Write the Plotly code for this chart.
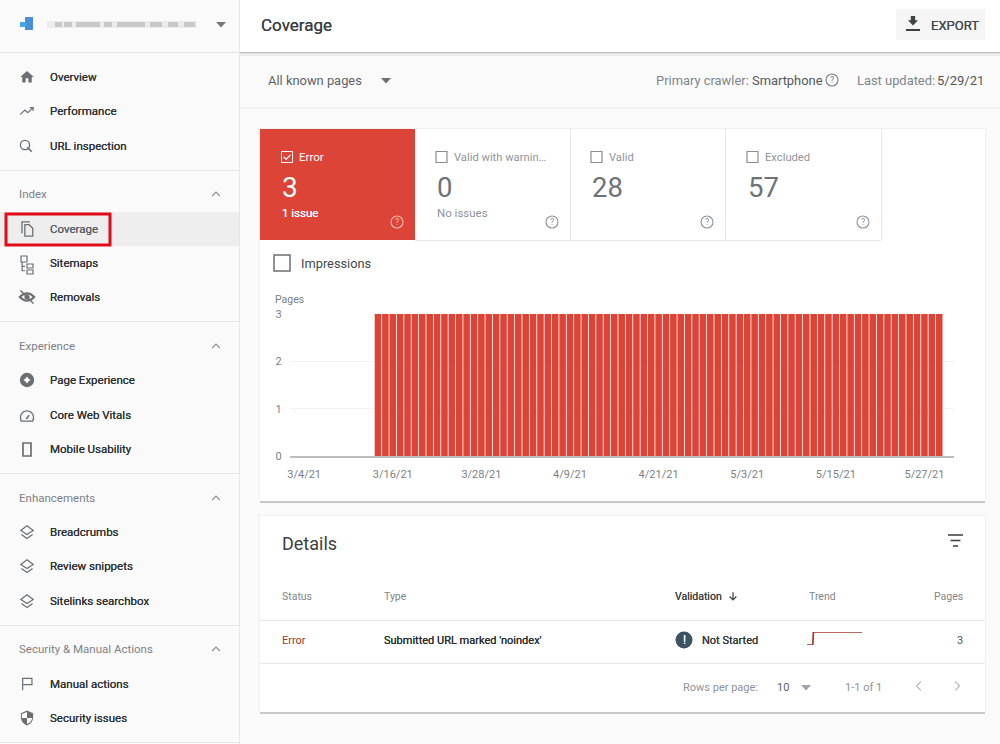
import re
import pandas as pd
import plotly.graph_objects as go

# ------------------------------------------------------------------ #
#                               DATA

dates = pd.date_range("2021-03-04", "2021-05-29", freq="D")
pages = [0, 0, 0, 0, 0, 0, 0, 0, 0, 0,
         3, 3, 3, 3, 3, 3, 3, 3, 3, 3, 3, 3, 3, 3, 3, 3, 3, 3, 3, 3, 3, 3, 3, 3, 3, 3, 3, 3, 3, 3,
         3, 3, 3, 3, 3, 3, 3, 3, 3, 3, 3, 3, 3, 3, 3, 3, 3, 3, 3, 3, 3, 3, 3, 3, 3, 3, 3, 3, 3, 3,
         3, 3, 3, 3, 3, 3, 3, 3, 3, 3, 3, 3, 3, 3, 3, 3, 3]
tick_dates = ["2021-03-04", "2021-03-16", "2021-03-28", "2021-04-09",
              "2021-04-21", "2021-05-03", "2021-05-15", "2021-05-27"]
tick_labels = ["3/4/21", "3/16/21", "3/28/21", "4/9/21", "4/21/21", "5/3/21", "5/15/21", "5/27/21"]
y_ticks = [0, 1, 2, 3]

RED = "#db4437"
DARK = "#3c4043"
GREY = "#80868b"
ICON = "#6b6f73"
FONT = "Roboto"

# ------------------------------------------------------------------ #
#                    HELPERS (the page is drawn in pixels)

shapes = []
notes = []


def rect(x0, y0, x1, y1, fill=None, line=None, w=1):
    shapes.append(dict(type="rect", xref="x", yref="y", x0=x0, y0=y0, x1=x1, y1=y1, layer="below",
                       fillcolor=fill or "rgba(0,0,0,0)",
                       line=dict(color=line or "rgba(0,0,0,0)", width=w if line else 0)))


def circle(cx, cy, r, fill=None, line=None, w=1):
    shapes.append(dict(type="circle", xref="x", yref="y", x0=cx - r, y0=cy - r, x1=cx + r, y1=cy + r, layer="below",
                       fillcolor=fill or "rgba(0,0,0,0)",
                       line=dict(color=line or "rgba(0,0,0,0)", width=w if line else 0)))


# icon paths are written on a 24x24 grid and moved to (cx, cy)
def icon(d, cx, cy, s=0.7, fill=None, line=None, w=1.4):
    nums = iter(re.findall(r"-?[\d.]+|[A-Za-z]", d))
    out = []
    for tok in nums:
        if tok.isalpha():
            out.append(tok)
        else:
            out.append(f"{cx + (float(tok) - 12) * s:.2f},{cy + (float(next(nums)) - 12) * s:.2f}")
    shapes.append(dict(type="path", xref="x", yref="y", path=" ".join(out), layer="below",
                       fillcolor=fill or "rgba(0,0,0,0)",
                       line=dict(color=line or "rgba(0,0,0,0)", width=w if line else 0)))


# medium weight is not available, a thin shadow over the regular face comes close
def text(s, x, y, size=11.5, color=DARK, anchor="left", medium=False):
    font = dict(family=FONT, size=size, color=color)
    if medium:
        font["shadow"] = f"0 0 0.6px {color}"
    if anchor == "left":
        x = x - 1
    notes.append(dict(text=s, x=x, y=y, xref="x", yref="y", xanchor=anchor, yanchor="middle", showarrow=False,
                      borderpad=0, font=font))


def caret(cx, cy, color=ICON):
    icon("M7 10 L17 10 L12 15.5 Z", cx, cy, 1, fill=color)


def help_icon(cx, cy, color="#8f9398"):
    circle(cx, cy, 6, line=color, w=1.1)
    text("?", cx, cy, 9, color, "center")


def checkbox(x, y, size=11, color="#8a8e92", w=1.2):
    rect(x, y, x + size, y + size, line=color, w=w)


# ------------------------------------------------------------------ #
#                               PAGE

# sidebar
rect(239, 0, 240, 744, fill="#e6e6e6")
rect(0, 212, 239, 246, fill="#eeeeee")
for y in [52, 170, 321, 473, 625, 742]:
    rect(0, y, 239, y + 1, fill="#e6e6e6")

# logo and blurred site name
rect(25, 17, 33, 30, fill="#4a90d9")
rect(20, 22, 26, 27, fill="#3fa9e0")
rect(47, 21, 197, 28, fill="#ececec")
for x0, x1 in [(55, 62), (64, 72), (76, 100), (104, 112), (117, 145), (150, 162), (168, 178), (184, 195)]:
    rect(x0, 22, x1, 27, fill="#c9c9c9")
caret(221, 24, "#777777")

nav_labels = ["Overview", "Performance", "URL inspection", "Coverage", "Sitemaps", "Removals",
              "Page Experience", "Core Web Vitals", "Mobile Usability",
              "Breadcrumbs", "Review snippets", "Sitelinks searchbox",
              "Manual actions", "Security issues"]
nav_y = [77, 111, 146, 229, 263, 297, 380, 415, 449, 532, 566, 601, 684, 718]
for label, y in zip(nav_labels, nav_y):
    text(label, 49.5, y, 11.5, "#5a5f64" if label == "Coverage" else "#303336", medium=True)

for label, y in zip(["Index", "Experience", "Enhancements", "Security & Manual Actions"], [194, 346, 498, 649]):
    text(label, 18.5, y, 11.5, "#7d8185")
    icon("M7 14.5 L12 9.5 L17 14.5", 216, y, 0.8, line="#8a8e92", w=1.1)

# nav icons
icon("M10 20 L10 14 L14 14 L14 20 L19 20 L19 12 L22 12 L12 3 L2 12 L5 12 L5 20 Z", 27, 77, 0.68, fill=ICON)
icon("M2 17 L9 10.5 L13 14.5 L21 7 M16 7 L21 7 L21 12", 27, 111, 0.68, line=ICON, w=1.2)
circle(25, 145, 4.6, line=ICON, w=1.3)
icon("M14 14 L20.5 20.5", 26, 146, 0.68, line=ICON, w=1.5)
icon("M16 2 L5 2 L5 18 M9 6 L15 6 L20 11 L20 22 L9 22 Z", 27, 229, 0.72, line=ICON, w=1.3)
for x0, y0, x1, y1 in [(21, 256, 27, 262), (27, 264, 33, 268), (27, 270, 33, 274)]:
    rect(x0, y0, x1, y1, line=ICON, w=1.2)
icon("M8 8 L8 20 L12 20 M8 14 L12 14", 25, 265, 0.72, line=ICON, w=1.2)
icon("M1 12 Q12 1 23 12 Q12 23 1 12 Z", 27, 297, 0.66, line=ICON, w=2)
circle(27, 297, 2.6, fill=ICON)
icon("M3 3 L21 21", 27, 297, 0.72, line=ICON, w=1.5)
circle(27, 380, 7.2, fill=ICON)
icon("M12 7 L14 10 L17 12 L14 14 L12 17 L10 14 L7 12 L10 10 Z", 27, 380, 0.72, fill="#fafafa")
icon("M4 19 Q1 12 6 7 Q12 3 18 7 Q23 12 20 19 Z", 27, 416, 0.72, line=ICON, w=1.3)
icon("M11 16 L15 11", 27, 416, 0.72, line=ICON, w=1.6)
rect(23, 443, 31, 456, line=ICON, w=1.7)
for y in [532, 566, 601]:
    icon("M12 2 L22 9.5 L12 16 L2 9.5 Z", 27, y, 0.62, line=ICON, w=1.2)
    icon("M3 15 L12 21.5 L21 15", 27, y + 0.6, 0.62, line=ICON, w=1.2)
icon("M5 22 L5 3 L20 3 L20 13 L5 13", 27, 684, 0.62, line=ICON, w=1.2)
icon("M12 1 L21 5 L21 11 Q21 19 12 23 Q3 19 3 11 L3 5 Z", 27, 718, 0.68, fill=ICON)
icon("M12 3 L12 12 L4.5 12 L4.5 6 Z M12 12 L19.5 12 Q19 18 12 21 Z", 27, 718, 0.68, fill="#fafafa")

# red highlight around Coverage
shapes.append(dict(type="rect", xref="x", yref="y", x0=6, y0=214, x1=110, y1=245, layer="below",
                   fillcolor="rgba(0,0,0,0)", line=dict(color="#e30b17", width=3)))

# top bar and filter bar
rect(240, 0, 1000, 52, fill="#ffffff")
rect(240, 52, 1000, 53.5, fill="#bdbdbd")
rect(240, 53.5, 1000, 56, fill="#ececec")
rect(240, 107.5, 1000, 108.5, fill="#e8e8e8")
text("Coverage", 260.5, 25, 17, DARK, medium=True)
rect(896, 9, 985, 40, fill="#f5f5f5")
icon("M19 9 L15 9 L15 3 L9 3 L9 9 L5 9 L12 16 Z", 913, 22.5, 0.72, fill="#3f4245")
rect(906, 29, 920, 31, fill="#3f4245")
text("EXPORT", 930.5, 25, 13, "#45494d", medium=True)
text("All known pages", 267.5, 80, 12.9, "#5f6368")
caret(386, 80)
text("Primary crawler:", 655.5, 80, 12.9, GREY)
text("Smartphone", 751.5, 80, 12.9, "#54585c")
help_icon(832, 80, "#7d8185")
text("Last updated:", 856.5, 80, 12.9, GREY)
text("5/29/21", 984.5, 80, 13, "#54585c", "right")

# chart card
rect(260, 500, 985, 503, fill="#c8c8c8")
rect(259, 128, 986, 501, fill="#f0f0f0")
rect(260, 129, 985, 501, fill="#ffffff")
rect(260, 129, 415, 240, fill=RED)
rect(415, 240, 881, 241, fill="#e8e8e8")
for x in [570, 725, 881]:
    rect(x, 129, x + 1, 240, fill="#e8e8e8")

# summary tiles
rect(281.5, 151.5, 292.5, 162.5, line="#ffffff", w=1)
icon("M6 12 L10.5 16.5 L18 8", 287, 157, 0.55, line="#ffffff", w=1.2)
text("Error", 298.5, 157, 11.5, "#ffffff")
text("3", 281.5, 187, 28, "#ffffff")
text("1 issue", 281.5, 213, 11.5, "#ffffff", medium=True)
help_icon(397, 222, "#f3b5ae")
tile_labels = ["Valid with warnin…", "Valid", "Excluded"]
tile_values = ["0", "28", "57"]
for label, value, x in zip(tile_labels, tile_values, [436, 591, 747]):
    checkbox(x, 151.5, 11)
    text(label, x + 17.5, 157, 11.2, "#90949a")
    text(value, x + 0.5, 187, 27.5, "#6f7377")
    help_icon(x + 116, 222)
text("No issues", 436.5, 213, 11.5, "#8f9398")

checkbox(274, 255, 16, "#6b6f73", 1.5)
text("Impressions", 300.5, 263, 12.8, "#45494d")
text("Pages", 274.5, 299, 10.5, "#7d8185")

# details card
rect(260, 711, 985, 714, fill="#c8c8c8")
rect(259, 515, 986, 712, fill="#f0f0f0")
rect(260, 516, 985, 712, fill="#ffffff")
rect(260, 620, 985, 621, fill="#e8e8e8")
rect(260, 663, 985, 664, fill="#e8e8e8")
text("Details", 281.5, 543, 18, DARK)
for y, x0, x1 in [(535, 948, 963), (540.5, 950.5, 960.5), (546, 953, 958)]:
    rect(x0, y - 0.8, x1, y + 0.8, fill="#44484c")

text("Status", 281.5, 596, 10.5, GREY)
text("Type", 383.5, 596, 10.5, GREY)
text("Validation", 674.5, 596, 10.5, "#3f4245", medium=True)
icon("M12 4 L12 20 M5 13 L12 20 L19 13", 733, 596, 0.48, line="#3f4245", w=1.2)
text("Trend", 808.5, 596, 10.5, GREY)
text("Pages", 964, 596, 10.5, GREY, "right")

text("Error", 281.5, 640, 11, "#a5372c")
text("Submitted URL marked 'noindex'", 383.5, 640, 11, "#2b2e31", medium=True)
circle(684, 640, 8.5, fill="#3d5362")
text("!", 684, 640, 12, "#ffffff", "center", medium=True)
text("Not Started", 701.5, 640, 11, "#33373a", medium=True)
text("3", 964, 640, 11, "#54585c", "right")

text("Rows per page:", 682.5, 687, 11, "#8f9398")
text("10", 776.5, 687, 11, "#5f6368")
caret(806, 687, "#a0a4a8")
text("1-1 of 1", 844.5, 687, 11, "#8f9398")
icon("M15 5 L8 12 L15 19", 919, 686, 0.62, line="#b5b8bb", w=1.2)
icon("M9 5 L16 12 L9 19", 957, 686, 0.62, line="#b5b8bb", w=1.2)

# ------------------------------------------------------------------ #
#                              FIGURE

fig = go.Figure()

# Coverage chart
fig.add_trace(go.Bar(x=dates, y=pages, xaxis="x2", yaxis="y2", marker=dict(color=RED, line=dict(width=0)),
                     hoverinfo="skip"))

# Trend sparkline in the table row
fig.add_trace(go.Scatter(x=dates, y=pages, xaxis="x3", yaxis="y3", mode="lines",
                         line=dict(color="#a5372c", width=1.7), hoverinfo="skip"))

W, H = 1000, 744
fig.update_layout(
    width=W, height=H,
    margin=dict(l=0, r=0, t=0, b=0, autoexpand=False),
    paper_bgcolor="#fafafa",
    plot_bgcolor="rgba(0,0,0,0)",
    showlegend=False,
    bargap=0.11,
    font=dict(family=FONT),
    shapes=shapes,
    annotations=notes,
    # page axis in pixels
    xaxis=dict(domain=[0, 1], range=[0, W], visible=False, fixedrange=True),
    yaxis=dict(domain=[0, 1], range=[H, 0], visible=False, fixedrange=True),
    # chart axes
    xaxis2=dict(domain=[290 / W, 954 / W], anchor="y2", type="date",
                range=["2021-03-02 02:00", "2021-05-31 00:00"],
                tickmode="array", tickvals=tick_dates, ticktext=tick_labels,
                ticks="outside", ticklen=7, tickcolor="rgba(0,0,0,0)",
                tickfont=dict(size=11, color="#7d8185"),
                showgrid=False, showline=True, linecolor="#bdbdbd", linewidth=1.5, zeroline=False),
    yaxis2=dict(domain=[1 - 456 / H, 1 - 314 / H], anchor="x2", range=[0, 3],
                tickmode="array", tickvals=y_ticks,
                ticks="outside", ticklen=5, tickcolor="rgba(0,0,0,0)",
                tickfont=dict(size=11, color="#7d8185"),
                showgrid=True, gridcolor="#f2f2f2", gridwidth=1, zeroline=False, showline=False),
    # sparkline axes
    xaxis3=dict(domain=[807 / W, 862 / W], anchor="y3", visible=False,
                range=["2021-03-04", "2021-05-29"], fixedrange=True),
    yaxis3=dict(domain=[1 - 645 / H, 1 - 632 / H], anchor="x3", visible=False, range=[0, 3], fixedrange=True),
)

fig.write_html("out.html", config={"displayModeBar": False}, post_script="document.body.style.margin='0';")
